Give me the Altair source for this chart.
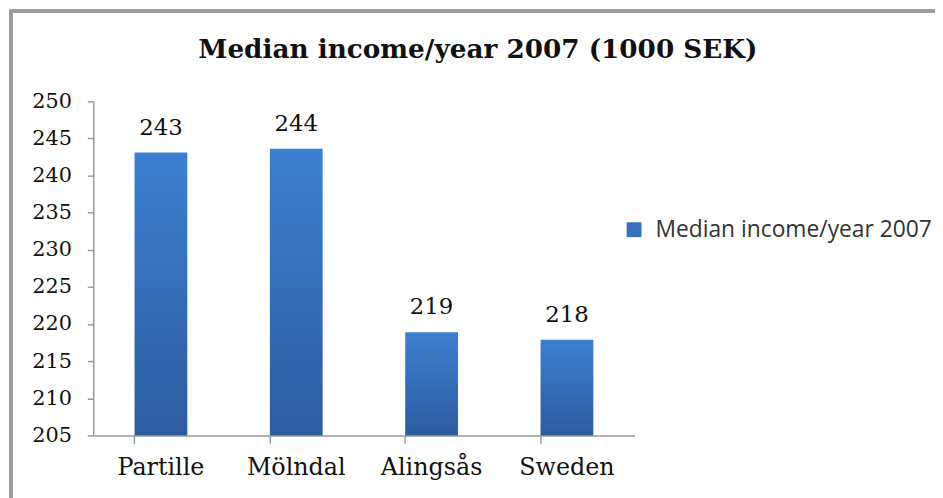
import altair as alt
import pandas as pd

regions = ["Partille", "Mölndal", "Alingsås", "Sweden"]
values = [243.1, 243.6, 218.9, 217.9]
series_name = "Median income/year 2007"
title_text = "Median income/year 2007 (1000 SEK)"
y_ticks = [205, 210, 215, 220, 225, 230, 235, 240, 245, 250]

df = pd.DataFrame({"Region": regions, "Value": values, "Series": [series_name] * len(regions)})

serif = "DejaVu Serif"
axis_gray = "#9a9a9a"

x_enc = alt.X("Region:N", sort=regions,
              scale=alt.Scale(paddingInner=0.61, paddingOuter=0.305),
              axis=alt.Axis(title=None, labelAngle=0, labelFont=serif, labelFontSize=24,
                            labelColor="#111", labelPadding=12, tickSize=8,
                            domainColor=axis_gray, tickColor=axis_gray, domainWidth=1.5,
                            tickWidth=1.5, bandPosition=0))
y_scale = alt.Scale(domain=[205, 250], zero=False, nice=False)
y_enc = alt.Y("Value:Q", scale=y_scale,
              axis=alt.Axis(title=None, values=y_ticks, tickCount=10, grid=False,
                            labelFont=serif, labelFontSize=21, labelColor="#111",
                            labelPadding=16, tickSize=6, labelOverlap=False,
                            labelFlush=False,
                            domainColor=axis_gray, tickColor=axis_gray, domainWidth=1.5,
                            tickWidth=1.5))

gradient = alt.Gradient(
    gradient="linear",
    stops=[alt.GradientStop(color="#3D7FD0", offset=0),
           alt.GradientStop(color="#2C5C9E", offset=1)],
    x1=0, x2=0, y1=0, y2=1,
)

frame = alt.Chart(df).mark_rect(fill=None, stroke="#9a9a9a", strokeWidth=3).encode(
    x=alt.value(-83), x2=alt.value(900), y=alt.value(-91), y2=alt.value(420)
)

bars = alt.Chart(df).mark_bar(color=gradient).encode(
    x=x_enc,
    y=y_enc,
    y2=alt.datum(205),
)

labels = alt.Chart(df).mark_text(dy=-18, baseline="alphabetic", font=serif, fontSize=23,
                                 color="#111").encode(
    x=x_enc,
    y=y_enc,
    text=alt.Text("Value:Q", format=".0f"),
)

legend_layer = alt.Chart(df).mark_point(opacity=0, filled=True, shape="square").encode(
    x=x_enc,
    y=y_enc,
    color=alt.Color("Series:N", scale=alt.Scale(range=["#3571BD"]),
                    legend=alt.Legend(title=None, orient="none", legendX=534, legendY=118,
                                      symbolType="square", symbolSize=225, symbolOpacity=1,
                                      symbolStrokeWidth=0,
                                      labelFont="Open Sans", labelFontSize=23,
                                      labelColor="#333", labelOffset=10,
                                      labelLimit=400)),
)

chart = alt.layer(frame, bars, labels, legend_layer).properties(
    width=546,
    height=337,
    title=alt.TitleParams(title_text, font=serif, fontSize=26.5, fontWeight="bold",
                          color="#111", anchor="middle", frame="group", dx=115,
                          offset=-54),
    padding={"left": 86, "top": 92, "right": 303, "bottom": 61},
    autosize=alt.AutoSizeParams(type="none"),
).configure_view(stroke=None).configure_axisY(labelOverlap=False)

chart.save("out.html", embed_options={"renderer": "svg", "actions": False})
